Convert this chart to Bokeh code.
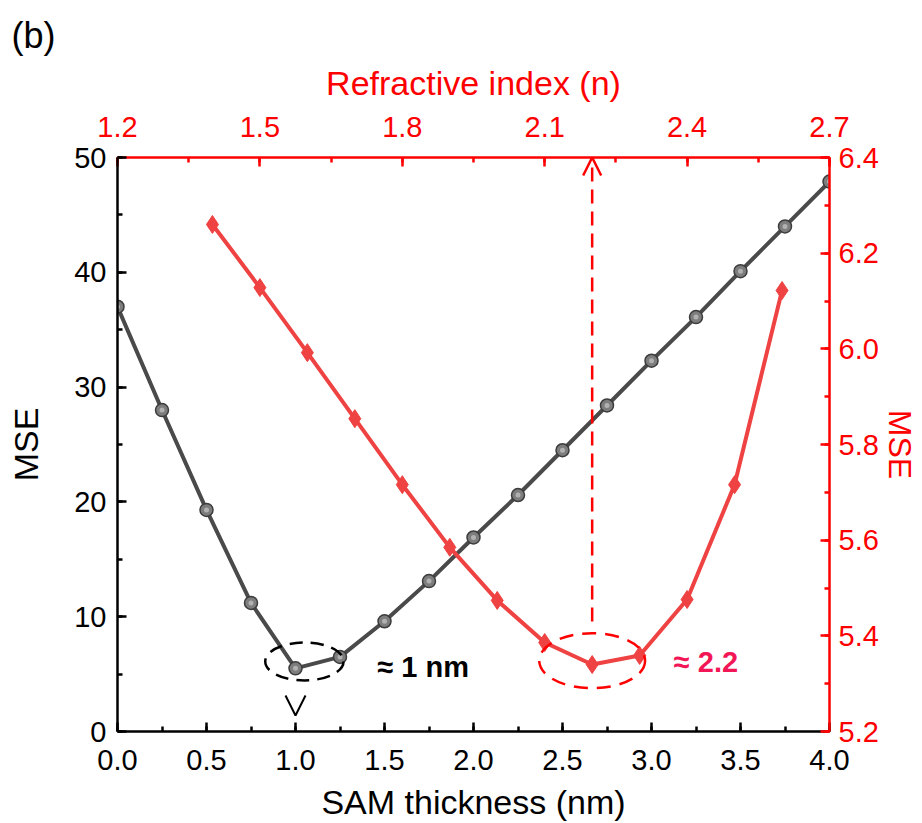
from bokeh.plotting import figure
from bokeh.models import (Range1d, LinearAxis, SingleIntervalTicker, Label, Arrow,
                          OpenHead, ColumnDataSource, PrintfTickFormatter)
from bokeh.embed import file_html
from bokeh.resources import INLINE

# ---------------- data ----------------
thickness = [0.0, 0.25, 0.5, 0.75, 1.0, 1.25, 1.5, 1.75, 2.0, 2.25, 2.5, 2.75,
             3.0, 3.25, 3.5, 3.75, 4.0]
mse_thickness = [37.0, 28.0, 19.3, 11.2, 5.5, 6.5, 9.6, 13.1, 16.9, 20.6, 24.5,
                 28.4, 32.3, 36.1, 40.1, 44.0, 47.9]
ref_index = [1.4, 1.5, 1.6, 1.7, 1.8, 1.9, 2.0, 2.1, 2.2, 2.3, 2.4, 2.5, 2.6]
mse_index = [6.26, 6.128, 5.992, 5.854, 5.716, 5.585, 5.474, 5.386, 5.340,
             5.359, 5.476, 5.716, 6.122]
best_thickness = 1.0
best_index = 2.2
label_thickness = "≈ 1 nm"
label_index = "≈ 2.2"

FONT = "Liberation Sans"
RED_AX = "#ff0000"
RED_LINE = "#ef4242"
BLACK_LINE = "#4a4a4a"
TICK_FS = "29px"
LABEL_FS = "34px"

p = figure(width=922, height=823, output_backend="svg", toolbar_location=None,
           x_range=Range1d(0, 4), y_range=Range1d(0, 50),
           min_border_left=117, min_border_right=93, min_border_top=157,
           min_border_bottom=92)
p.extra_x_ranges = {"n": Range1d(1.2, 2.7)}
p.extra_y_ranges = {"m": Range1d(5.2, 6.4)}
p.xgrid.visible = False
p.ygrid.visible = False
p.outline_line_color = None
p.background_fill_color = "white"
p.border_fill_color = "white"

p.title.text = "(b)"
p.title.text_font = FONT
p.title.text_font_size = "36px"
p.title.text_font_style = "normal"
p.title.text_color = "black"
p.title.align = "left"
p.title.offset = -106
p.title.standoff = 10


def style_axis(ax, color, label_fs=LABEL_FS):
    ax.axis_line_color = color
    ax.axis_line_width = 2.5
    ax.major_tick_line_color = color
    ax.minor_tick_line_color = color
    ax.major_tick_line_width = 2.5
    ax.minor_tick_line_width = 2.5
    ax.major_tick_in = 9
    ax.major_tick_out = 0
    ax.minor_tick_in = 5
    ax.minor_tick_out = 0
    ax.major_label_text_color = color
    ax.major_label_text_font = FONT
    ax.major_label_text_font_size = TICK_FS
    ax.axis_label_text_color = color
    ax.axis_label_text_font = FONT
    ax.axis_label_text_font_size = label_fs
    ax.axis_label_text_font_style = "normal"


# bottom / left axes
xa = p.xaxis[0]
xa.axis_label = "SAM thickness (nm)"
xa.ticker = SingleIntervalTicker(interval=0.5, num_minor_ticks=2)
xa.formatter = PrintfTickFormatter(format="%.1f")
style_axis(xa, "black")
xa.major_label_standoff = 18
xa.axis_label_standoff = 10

ya = p.yaxis[0]
ya.axis_label = "MSE"
ya.ticker = SingleIntervalTicker(interval=10, num_minor_ticks=2)
style_axis(ya, "black")
ya.major_label_standoff = 11
ya.axis_label_standoff = 26

# top axis
ta = LinearAxis(x_range_name="n", axis_label="Refractive index (n)",
                ticker=SingleIntervalTicker(interval=0.3, num_minor_ticks=2),
                formatter=PrintfTickFormatter(format="%.1f"))
style_axis(ta, RED_AX)
ta.major_label_standoff = 21
ta.axis_label_standoff = 12
p.add_layout(ta, "above")

# right axis
ra = LinearAxis(y_range_name="m", axis_label="MSE",
                ticker=SingleIntervalTicker(interval=0.2, num_minor_ticks=2),
                formatter=PrintfTickFormatter(format="%.1f"))
style_axis(ra, RED_AX, label_fs="32px")
ra.major_label_standoff = 9
ra.axis_label_standoff = 0
p.add_layout(ra, "right")

# ---------------- series ----------------
src_t = ColumnDataSource(dict(x=thickness, y=mse_thickness))
src_n = ColumnDataSource(dict(x=ref_index, y=mse_index))

p.line("x", "y", source=src_t, line_color=BLACK_LINE, line_width=4)
p.scatter("x", "y", source=src_t, marker="circle", size=13,
          fill_color="#7d7d7d", line_color="#3c3c3c", line_width=1.5)
p.scatter("x", "y", source=src_t, marker="circle", size=5,
          fill_color="#c8c8c8", line_color=None, fill_alpha=0.7)

p.line("x", "y", source=src_n, x_range_name="n", y_range_name="m",
       line_color=RED_LINE, line_width=4)
p.scatter("x", "y", source=src_n, x_range_name="n", y_range_name="m",
          marker="diamond", size=18, fill_color=RED_LINE, line_color=RED_LINE)

# ---------------- annotations ----------------
i_min_t = mse_thickness.index(min(mse_thickness))
i_min_n = mse_index.index(min(mse_index))

# dashed ellipses around minima
p.ellipse(x=[thickness[i_min_t] + 0.05], y=[mse_thickness[i_min_t] + 0.6],
          width=0.44, height=3.3, fill_color=None, line_color="black",
          line_width=2.5, line_dash="13 8")
p.ellipse(x=[ref_index[i_min_n]], y=[mse_index[i_min_n] + 0.008],
          width=0.223, height=0.115, x_range_name="n", y_range_name="m",
          fill_color=None, line_color=RED_AX, line_width=2.5, line_dash="14 9")

# arrow head below black minimum
p.add_layout(Arrow(x_start=best_thickness, y_start=3.0, x_end=best_thickness,
                   y_end=1.4, line_alpha=0.0,
                   end=OpenHead(size=20, line_color="black", line_width=2)))

# red dashed arrow up to top axis
p.add_layout(Arrow(x_start=best_index, y_start=5.43, x_end=best_index, y_end=6.4,
                   x_range_name="n", y_range_name="m",
                   line_color=RED_AX, line_width=2.5, line_dash="14 8",
                   end=OpenHead(size=18, line_color=RED_AX, line_width=2.5)))

p.add_layout(Label(x=1.46, y=5.66, text=label_thickness, text_font=FONT,
                   text_font_size="29px", text_font_style="bold",
                   text_color="black", text_baseline="middle"))
p.add_layout(Label(x=2.372, y=5.346, x_range_name="n", y_range_name="m",
                   text=label_index, text_font=FONT, text_font_size="29px",
                   text_font_style="bold", text_color="#f31656",
                   text_baseline="middle"))

open("out.html", "w").write(file_html(p, INLINE))
